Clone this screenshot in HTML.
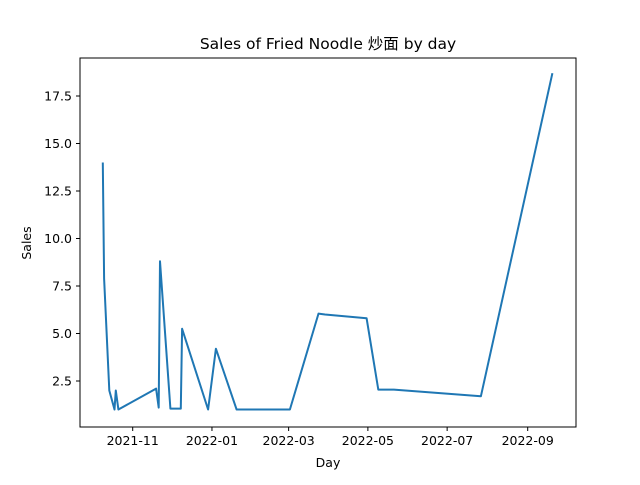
<!DOCTYPE html>
<html><head><meta charset="utf-8"><style>
body{margin:0;background:#fff}
text{font-family:"DejaVu Sans","Noto Sans CJK SC",sans-serif;fill:#000}
</style></head><body>
<svg id="chart" width="640" height="480">
<rect x="0" y="0" width="640" height="480" fill="#fff"/>
<text x="328" y="49" font-size="15.5" text-anchor="middle">Sales of Fried Noodle 炒面 by day</text>
<g id="xt"></g><g id="yt"></g>
<path id="line" fill="none" stroke="#1f77b4" stroke-width="2" stroke-linejoin="round"/>
<rect x="80" y="58" width="496" height="369" fill="none" stroke="#000" stroke-width="1"/>
<text x="328" y="467" font-size="12.5" text-anchor="middle">Day</text>
<text x="31" y="243" font-size="12.5" text-anchor="middle" transform="rotate(-90 31 243)">Sales</text>
</svg>
<script>
const dates=["2021-10-09","2021-10-10","2021-10-14","2021-10-18","2021-10-19","2021-10-21","2021-11-19","2021-11-21","2021-11-22","2021-11-30","2021-12-08","2021-12-09","2021-12-29","2022-01-04","2022-01-20","2022-03-02","2022-03-24","2022-03-29","2022-04-30","2022-05-09","2022-05-21","2022-07-27","2022-09-20"];
const sales=[14,7.9,2,1,2,1,2.1,1.1,8.8,1.05,1.05,5.25,1,4.2,1,1,6.05,6,5.8,2.05,2.05,1.7,18.7];
const xTicks=["2021-11","2022-01","2022-03","2022-05","2022-07","2022-09"];
const yTicks=[2.5,5.0,7.5,10.0,12.5,15.0,17.5];
const ns="http://www.w3.org/2000/svg";
const t0=Date.UTC(2021,10,1), t1=Date.UTC(2022,8,1);
function day(s){const p=s.split("-");return Date.UTC(+p[0],+p[1]-1,p[2]?+p[2]:1);}
function X(s){return 132.7+(day(s)-t0)/(t1-t0)*395;}
function Y(v){return 381-(v-2.5)*19;}
let d="";
dates.forEach((s,i)=>{d+=(i?"L":"M")+X(s).toFixed(1)+" "+Y(sales[i]).toFixed(1);});
document.getElementById("line").setAttribute("d",d);
const xt=document.getElementById("xt"),yt=document.getElementById("yt");
xTicks.forEach(s=>{const x=X(s);
const l=document.createElementNS(ns,"line");l.setAttribute("x1",x);l.setAttribute("x2",x);l.setAttribute("y1",427);l.setAttribute("y2",431);l.setAttribute("stroke","#000");


xt.appendChild(l);
const t=document.createElementNS(ns,"text");t.setAttribute("x",x);t.setAttribute("y",445);t.setAttribute("font-size","12.5");t.setAttribute("text-anchor","middle");t.textContent=s;


xt.appendChild(t);});
yTicks.forEach(v=>{const y=Y(v);
const l=document.createElementNS(ns,"line");l.setAttribute("x1",76);l.setAttribute("x2",80);l.setAttribute("y1",y);l.setAttribute("y2",y);l.setAttribute("stroke","#000");


yt.appendChild(l);
const t=document.createElementNS(ns,"text");t.setAttribute("x",72);t.setAttribute("y",y+4.5);t.setAttribute("font-size","12.5");t.setAttribute("text-anchor","end");t.textContent=v.toFixed(1);


yt.appendChild(t);});
</script>
</body></html>
